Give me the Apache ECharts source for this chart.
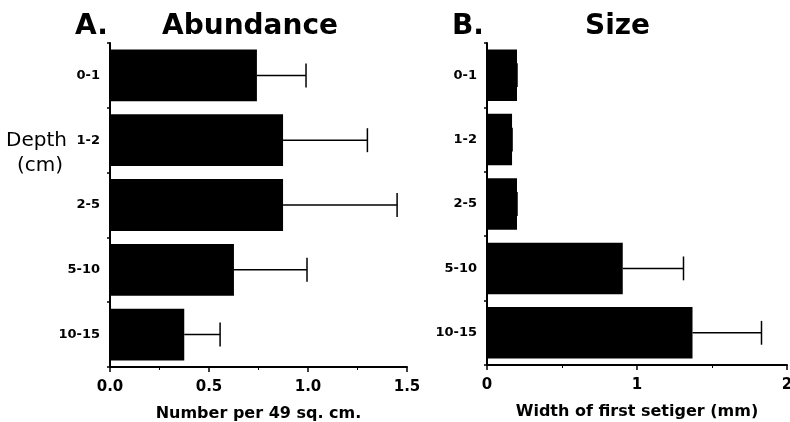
<!DOCTYPE html>
<html><head><meta charset="utf-8">
<script src="https://cdn.jsdelivr.net/npm/echarts@6/dist/echarts.min.js"></script>
<style>html,body{margin:0;padding:0;background:#fff}#c{width:790px;height:422px}</style>
</head><body><div id="c"></div>
<script>
const categories = ['0-1', '1-2', '2-5', '5-10', '10-15'];
const abundance = [0.742, 0.874, 0.874, 0.626, 0.375];
const abundanceErr = [0.99, 1.30, 1.45, 0.995, 0.556];
const size = [0.20, 0.167, 0.20, 0.905, 1.37];
const sizeErr = [0.20, 0.167, 0.20, 1.31, 1.83];
const abundanceTicks = [0, 0.5, 1.0, 1.5];
const sizeTicks = [0, 1, 2];

const FONT = 'DejaVu Sans';
const chart = echarts.init(document.getElementById('c'));

function errSeries(idx, vals, errs) {
  return {
    type: 'custom', xAxisIndex: idx, yAxisIndex: idx, z: 1,
    data: vals.map((v, i) => [v, errs[i], i]),
    encode: { x: [0, 1], y: 2 },
    renderItem: function (params, api) {
      const a = api.coord([api.value(0), api.value(2)]);
      const b = api.coord([api.value(1), api.value(2)]);
      const h = api.size([0, 1])[1] * 0.37;
      const st = { stroke: '#000', lineWidth: 1.5 };
      return { type: 'group', children: [
        { type: 'line', shape: { x1: a[0], y1: a[1], x2: b[0], y2: b[1] }, style: st },
        { type: 'line', shape: { x1: b[0], y1: b[1] - h / 2, x2: b[0], y2: b[1] + h / 2 }, style: st }
      ]};
    }
  };
}

function xAxis(idx, max, interval, ticks, name, decimals) {
  return {
    gridIndex: idx, type: 'value', min: 0, max: max, interval: interval,
    name: name, nameLocation: 'middle', nameGap: 39,
    nameTextStyle: { fontFamily: FONT, fontWeight: 'bold', fontSize: 16, color: '#000' },
    axisLine: { show: true, lineStyle: { color: '#000', width: 2 } },
    axisTick: { show: true, length: 5, lineStyle: { color: '#000', width: 1.5 } },
    minorTick: { show: true, splitNumber: 2, length: 3, lineStyle: { color: '#000', width: 1 } },
    splitLine: { show: false },
    axisLabel: { fontFamily: FONT, fontWeight: 'bold', fontSize: 15, color: '#000', margin: 13,
      formatter: v => { const t = ticks.find(x => Math.abs(x - v) < 1e-9); return t === undefined ? '' : t.toFixed(decimals); } }
  };
}

function yAxis(idx) {
  return {
    gridIndex: idx, type: 'category', data: categories, inverse: true,
    axisLine: { show: true, lineStyle: { color: '#000', width: 2 } },
    axisTick: { show: true, length: 3, alignWithLabel: false, lineStyle: { color: '#000', width: 1.5 } },
    axisLabel: { fontFamily: FONT, fontWeight: 'bold', fontSize: 13, color: '#000', margin: 10 }
  };
}

const titleStyle = { fontFamily: FONT, fontWeight: 'bold', fontSize: 28, color: '#000' };
chart.setOption({
  animation: false,
  title: [
    { text: 'A.', left: 70, top: 8, textStyle: titleStyle },
    { text: 'Abundance', left: 157, top: 8, textStyle: titleStyle },
    { text: 'B.', left: 447, top: 8, textStyle: titleStyle },
    { text: 'Size', left: 580, top: 8, textStyle: titleStyle }
  ],
  graphic: [
    { type: 'text', left: 6, top: 131, style: { text: 'Depth', font: '20px "DejaVu Sans"', fill: '#000' } },
    { type: 'text', left: 17, top: 156, style: { text: '(cm)', font: '20px "DejaVu Sans"', fill: '#000' } }
  ],
  grid: [
    { left: 110, top: 43, width: 297, height: 324, containLabel: false, outerBoundsMode: 'none' },
    { left: 487, top: 43, width: 300, height: 322, containLabel: false, outerBoundsMode: 'none' }
  ],
  xAxis: [
    xAxis(0, 1.5, 0.5, abundanceTicks, 'Number per 49 sq. cm.', 1),
    xAxis(1, 2, 1, sizeTicks, 'Width of first setiger (mm)', 0)
  ],
  yAxis: [yAxis(0), yAxis(1)],
  series: [
    { type: 'bar', xAxisIndex: 0, yAxisIndex: 0, data: abundance, barWidth: '80%', itemStyle: { color: '#000' }, z: 2 },
    errSeries(0, abundance, abundanceErr),
    { type: 'bar', xAxisIndex: 1, yAxisIndex: 1, data: size, barWidth: '80%', itemStyle: { color: '#000' }, z: 2 },
    errSeries(1, size, sizeErr)
  ]
});
</script></body></html>
